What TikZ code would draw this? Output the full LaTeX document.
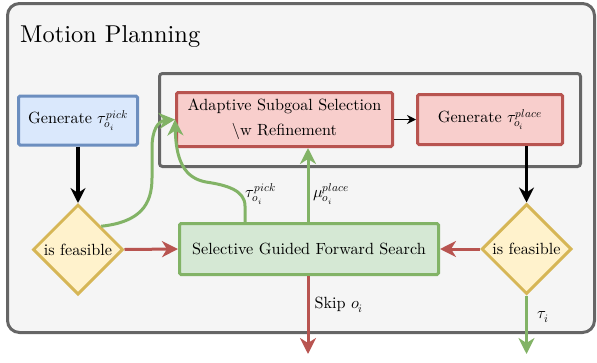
\documentclass[tikz,border=0pt]{standalone}
\usepackage{fontspec}
\usepackage{unicode-math}
\setmainfont{lmroman10-regular.otf}[ItalicFont=lmroman10-italic.otf, BoldFont=lmroman10-bold.otf]
\setmathfont{Latin Modern Math}
\usetikzlibrary{arrows.meta,shapes.geometric}
\definecolor{bgfill}{HTML}{F5F5F5}
\definecolor{bgline}{HTML}{666666}
\definecolor{bluefill}{HTML}{DAE8FC}
\definecolor{blueline}{HTML}{6C8EBF}
\definecolor{redfill}{HTML}{F8CECC}
\definecolor{redline}{HTML}{B85450}
\definecolor{yelfill}{HTML}{FFF2CC}
\definecolor{yelline}{HTML}{D6B656}
\definecolor{grnfill}{HTML}{D5E8D4}
\definecolor{grnline}{HTML}{82B366}
\tikzset{
  base/.style={line width=3pt, inner sep=0pt, align=center, font=\fontsize{16.2}{25}\selectfont},
  boxnode/.style={base, rectangle, rounded corners=1.5pt},
  decision/.style={base, diamond, aspect=1, minimum width=90pt, minimum height=90pt, draw=yelline, fill=yelfill},
  lbl/.style={inner sep=0pt, font=\fontsize{16.2}{19}\selectfont},
  bigtip/.style={-{Stealth[length=16pt,width=16pt,inset=5pt]}},
  redarrow/.style={bigtip, line width=3pt, draw=redline},
  grnarrow/.style={bigtip, line width=3pt, draw=grnline},
  blkarrow/.style={-{Stealth[length=15pt,width=15pt,inset=5pt]}, line width=3.5pt, draw=black},
}
\begin{document}
\begin{tikzpicture}[x=1pt,y=-1pt]
\useasboundingbox (0,0) rectangle (597,362);
% outer container
\draw[line width=3pt, draw=bgline, fill=bgfill, rounded corners=12pt] (7.5,3.5) rectangle (594.5,332.5);
\node[anchor=base west, inner sep=0pt, font=\fontsize{24.4}{29}\selectfont] (title) at (20,42) {Motion Planning};
% inner container
\draw[line width=3pt, draw=bgline, rounded corners=3pt] (159.5,73.5) rectangle (580.5,166.5);

\node[boxnode, draw=blueline, fill=bluefill, minimum width=119pt, minimum height=49pt] (gpick) at (78,120.5) {Generate $\tau_{o_i}^{pick}$};
\node[boxnode, draw=redline, fill=redfill, minimum width=216pt, minimum height=54pt] (ad) at (284.5,119.5) {Adaptive Subgoal Selection\\ \textbackslash w Refinement};
\node[boxnode, draw=redline, fill=redfill, minimum width=145pt, minimum height=50pt] (gplace) at (490,119.5) {Generate $\tau_{o_i}^{place}$};
\node[boxnode, draw=grnline, fill=grnfill, minimum width=259pt, minimum height=51pt] (sg) at (309,249) {Selective Guided Forward Search};
\node[decision] (ld) at (78,249.5) {is feasible};
\node[decision] (rd) at (526.5,249) {is feasible};

\coordinate (px) at (308,0);
\coordinate (p2) at (245,0);
\coordinate (skipend) at (308,354);
\coordinate (tauend) at (526.5,354);

% black arrows
\draw[-{Stealth[length=9pt,width=9pt,inset=3pt]}, line width=1.8pt] (ad.east) -- (gplace.west);
\draw[blkarrow] (gpick.south) -- (ld.north);
\draw[blkarrow] (gplace.south -| rd.north) -- (rd.north);

% red arrows
\draw[redarrow] (ld.east) -- (sg.west);
\draw[redarrow] (rd.west) -- (sg.east);
\draw[redarrow] (sg.south -| px) -- (skipend);

% green arrows
\draw[grnarrow] (sg.north -| px) -- (ad.south -| px);
\draw[grnarrow] (rd.south) -- (tauend);
\draw[grnarrow] (ld.north east) .. controls (140,222) and (152,205) .. (152,178) -- (152,148) .. controls (152,130) and (158,121) .. (ad.west);
\draw[grnarrow] (sg.north -| p2) -- (245,206) .. controls (245,190) and (226,185) .. (206,182) .. controls (184,178) and (176,160) .. (ad.west);

% labels
\node[lbl] (l1) at (261,194) {$\tau_{o_i}^{pick}$};
\node[lbl] (l2) at (331,194) {$\mu_{o_i}^{place}$};
\node[lbl] (l3) at (339,305) {Skip $o_i$};
\node[lbl] (l4) at (543,317) {$\tau_i$};
\end{tikzpicture}
\end{document}
